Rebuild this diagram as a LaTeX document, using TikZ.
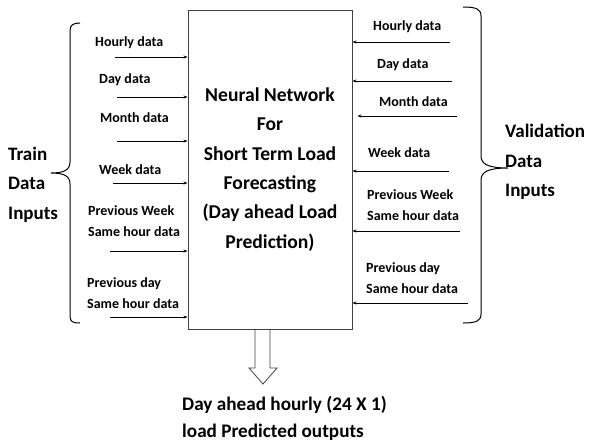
\documentclass[tikz,border=0pt]{standalone}
\usepackage{fontspec}
\setmainfont{Carlito}
\usetikzlibrary{arrows.meta}
\begin{document}
\begin{tikzpicture}[x=1pt,y=-1pt,
  lbl/.style={font=\bfseries\fontsize{14}{21}\selectfont, inner sep=0pt, align=left, anchor=west},
  side/.style={font=\bfseries\fontsize{19}{29.5}\selectfont, inner sep=0pt, align=left, anchor=west},
  feed/.style={-{Stealth[length=4pt,width=3pt]}, line width=0.8pt},
  curly/.style={line width=1pt}]
\useasboundingbox (0,0) rectangle (592,445);

% forecasting block
\node[draw=black!75, line width=0.9pt, minimum width=164pt, minimum height=319pt,
      inner sep=0pt, align=center, font=\bfseries\fontsize{19.6}{29.4}\selectfont]
  (nn) at (270,169.5)
  {Neural Network\\For\\Short Term Load\\Forecasting\\(Day ahead Load\\Prediction)};

% training inputs
\node[lbl] (lh) at (95,43)  {Hourly data};
\node[lbl] (ld) at (99,80)  {Day data};
\node[lbl] (lm) at (100,118) {Month data};
\node[lbl] (lw) at (99,170) {Week data};
\node[lbl] (lpw) at (88,221) {Previous Week\\Same hour data};
\node[lbl] (lpd) at (87,293.5) {Previous day\\Same hour data};

\coordinate (sh) at (115,57);
\coordinate (sd) at (117,97);
\coordinate (sm) at (117,141);
\coordinate (sw) at (113,183);
\coordinate (spw) at (110,251);
\coordinate (spd) at (110,317);
\foreach \c in {sh,sd,sm,sw,spw,spd}
  \draw[feed] (\c) -- (\c -| nn.west);

% validation inputs
\node[lbl] (rh) at (373,27)  {Hourly data};
\node[lbl] (rd) at (377,65)  {Day data};
\node[lbl] (rm) at (379,102) {Month data};
\node[lbl] (rw) at (368,153) {Week data};
\node[lbl] (rpw) at (367,205.5) {Previous Week\\Same hour data};
\node[lbl] (rpd) at (366,278) {Previous day\\Same hour data};

\coordinate (th) at (450,42);
\coordinate (td) at (452,81);
\coordinate (tm) at (457,116);
\coordinate (tw) at (449,171);
\coordinate (tpw) at (460,231);
\coordinate (tpd) at (468,303);
\foreach \c in {th,td,tw,tpw,tpd}
  \draw[feed] (\c) -- (\c -| nn.east);
\draw[feed] (tm) -- ([xshift=5pt]tm -| nn.east);

% braces
\draw[curly] (80,23) .. controls (73,23) and (70,25) .. (70,31) -- (70,162)
  .. controls (70,170) and (64,173) .. (51,173)
  (51,173) .. controls (64,173) and (70,176) .. (70,184) -- (70,316)
  .. controls (70,322) and (73,323) .. (80,323);
\draw[curly] (463,7) .. controls (476,7) and (481,9) .. (481,16) -- (481,156)
  .. controls (481,164) and (488,168) .. (508,168)
  (508,168) .. controls (488,168) and (481,172) .. (481,180) -- (481,314)
  .. controls (481,321) and (476,323) .. (463,323);

\node[side] (train) at (8,184.5) {Train\\Data\\Inputs};
\node[side] (valid) at (505,162) {Validation\\Data\\Inputs};

% output arrow
\draw[line width=0.8pt, draw=black!75]
  (255,329) -- (255,368) -- (249,368) -- (263,384) -- (277,368) -- (270,368) -- (270,329);

\node[font=\bfseries\fontsize{19.2}{27}\selectfont, inner sep=0pt, align=left, anchor=west]
  (out) at (182,418.5) {Day ahead hourly (24 X 1)\\load Predicted outputs};
\end{tikzpicture}
\end{document}
